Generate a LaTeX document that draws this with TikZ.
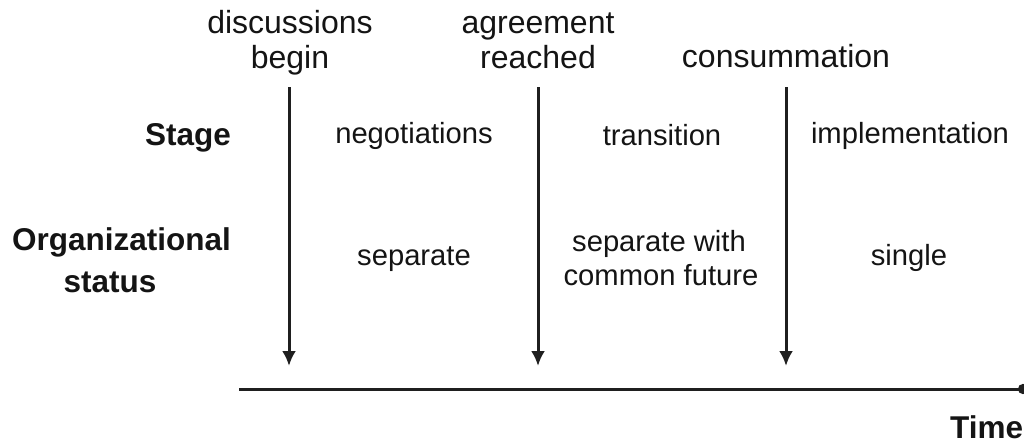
\documentclass[tikz,border=0pt]{standalone}
\usepackage{fontspec}
\setmainfont{Liberation Sans}
\usetikzlibrary{arrows.meta}
\begin{document}
\begin{tikzpicture}[x=1pt,y=-1pt,
  lbl/.style={font=\fontsize{29.2}{34}\selectfont, inner sep=0pt, align=center, text=black!92},
  toplbl/.style={lbl, font=\fontsize{32}{35}\selectfont},
  hdr/.style={lbl, font=\fontsize{31.5}{42}\selectfont\bfseries},
  eventarrow/.style={line width=3pt, draw=black!88, -{Latex[length=15pt,width=14pt]}},
  timeaxis/.style={line width=3pt, draw=black!88, -{Circle[length=10pt,width=10pt]}}]
\useasboundingbox (0,0) rectangle (1024,445);
% top labels
\node[toplbl, anchor=base] (l1a) at (290,33) {discussions};
\node[toplbl, anchor=base] (l1b) at (290,68) {begin};
\node[toplbl, anchor=base] (l2a) at (538,33) {agreement};
\node[toplbl, anchor=base] (l2b) at (538,68) {reached};
\node[toplbl, anchor=base] (l3) at (786,67) {consummation};
% arrows
\coordinate (a1t) at (289,87); \coordinate (a1b) at (289,366);
\coordinate (a2t) at (538,87); \coordinate (a2b) at (538,366);
\coordinate (a3t) at (786,87); \coordinate (a3b) at (786,366);
\draw[eventarrow] (a1t) -- (a1b);
\draw[eventarrow] (a2t) -- (a2b);
\draw[eventarrow] (a3t) -- (a3b);
% axis
\coordinate (ax0) at (239,389); \coordinate (ax1) at (1028,389);
\draw[timeaxis] (ax0) -- (ax1);
\node[hdr, anchor=base west] (time) at (950,438) {Time};
% row headers
\node[hdr, anchor=base east] (stage) at (231,145) {Stage};
\node[hdr, anchor=base east] (org) at (231,250) {Organizational};
\node[hdr, anchor=base] (orgb) at (110,292) {status};
% stage row
\node[lbl, anchor=base] (s1) at (414,143) {negotiations};
\node[lbl, anchor=base] (s2) at (662,145) {transition};
\node[lbl, anchor=base] (s3) at (910,143) {implementation};
% status row
\node[lbl, anchor=base] (o1) at (414,265) {separate};
\node[lbl, anchor=base] (o2a) at (659,251) {separate with};
\node[lbl, anchor=base] (o2b) at (661,285) {common future};
\node[lbl, anchor=base] (o3) at (909,265) {single};
\end{tikzpicture}
\end{document}
